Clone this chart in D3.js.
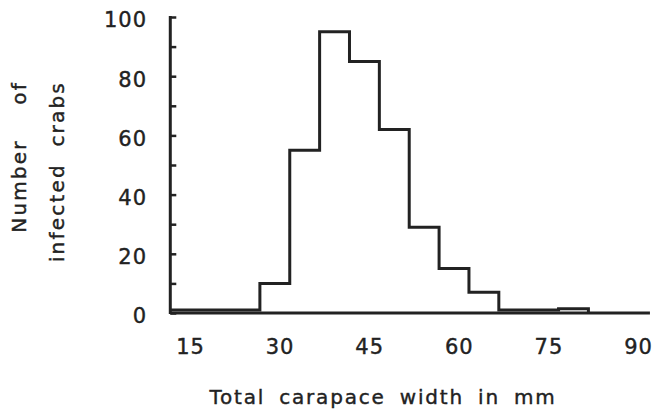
<!DOCTYPE html>
<html>
<head>
<meta charset="utf-8">
<script src="https://cdn.jsdelivr.net/npm/d3@7"></script>
<style>
  body { margin: 0; background: #fff; }
  text { font-family: 'DejaVu Sans', sans-serif; fill: #222; stroke: #222; stroke-width: 0.4px; }
</style>
</head>
<body>
<div class="vis-hist"></div>
<script>
// bin starts (mm), each bin 5 mm wide
const binStarts = [11.7, 16.7, 21.7, 26.7, 31.7, 36.7, 41.7, 46.7, 51.7, 56.7, 61.7, 66.7, 71.7, 76.7];
const counts = [1, 1, 1, 10, 55, 95, 85, 62, 29, 15, 7, 1, 1, 1.4];
const binWidth = 5;
const xTicks = [15, 30, 45, 60, 75, 90];
const yTicks = [0, 10, 20, 30, 40, 50, 60, 70, 80, 90, 100];
const yLabels = [0, 20, 40, 60, 80, 100];

const W = 656, H = 409;
const svg = d3.select('.vis-hist')
    .append('svg')
    .attr('width', W)
    .attr('height', H);

const x = d3.scaleLinear().domain([15, 90]).range([190, 638]);
const y = d3.scaleLinear().domain([0, 100]).range([313, 17]);
const x0 = binStarts[0], x1 = 92;

const ink = '#222';

// baseline
svg.append('line')
    .attr('x1', x(x0)).attr('x2', x(x1))
    .attr('y1', y(0)).attr('y2', y(0))
    .attr('stroke', ink).attr('stroke-width', 3);

// y axis with inward ticks
const yAxis = d3.axisLeft(y)
    .tickValues(yTicks)
    .tickSize(-6)
    .tickFormat('');
const gy = svg.append('g')
    .attr('transform', 'translate(' + x(x0) + ',0)')
    .call(yAxis);
gy.select('.domain').remove();
gy.selectAll('.tick line').attr('stroke', ink).attr('stroke-width', 2.5);
gy.append('line')
    .attr('y1', y(100) - 1).attr('y2', y(0) + 1)
    .attr('stroke', ink).attr('stroke-width', 3);

svg.selectAll('.ylab')
    .data(yLabels)
    .enter().append('text')
    .attr('class', 'ylab')
    .attr('x', 147)
    .attr('y', d => y(d) + 3)
    .attr('dy', '0.35em')
    .attr('text-anchor', 'end')
    .style('font-size', '21px')
    .style('letter-spacing', '1px')
    .text(d => d);

// x tick labels
const xAxis = d3.axisBottom(x)
    .tickValues(xTicks)
    .tickSize(0)
    .tickPadding(0);
const gx = svg.append('g')
    .attr('transform', 'translate(0,' + 347 + ')')
    .call(xAxis);
gx.select('.domain').remove();
gx.selectAll('text')
    .attr('y', 0)
    .attr('dy', '0.35em')
    .style('font-size', '21px')
    .style('letter-spacing', '1px')
    .style('font-family', "'DejaVu Sans', sans-serif")
    .attr('fill', ink);

// histogram outline
const pts = binStarts.map((s, i) => [s, counts[i]]);
const last = binStarts[binStarts.length - 1] + binWidth;
pts.push([last, 0]);
const step = d3.line()
    .x(d => x(d[0]))
    .y(d => y(d[1]))
    .curve(d3.curveStepAfter);
svg.append('path')
    .datum(pts)
    .attr('d', step)
    .attr('fill', 'none')
    .attr('stroke', ink)
    .attr('stroke-width', 3);

// axis titles
svg.append('text')
    .attr('x', 383)
    .attr('y', 397)
    .attr('dy', '0.35em')
    .attr('text-anchor', 'middle')
    .style('font-size', '20px')
    .style('letter-spacing', '1.8px')
    .style('word-spacing', '6px')
    .text('Total carapace width in mm');

svg.append('text')
    .attr('transform', 'translate(19,81) rotate(-90)')
    .attr('text-anchor', 'end')
    .attr('dy', '0.35em')
    .style('font-size', '20px')
    .style('letter-spacing', '2.2px')
    .style('word-spacing', '26px')
    .text('Number of');

svg.append('text')
    .attr('transform', 'translate(57,81) rotate(-90)')
    .attr('text-anchor', 'end')
    .attr('dy', '0.35em')
    .style('font-size', '20px')
    .style('letter-spacing', '2.2px')
    .style('word-spacing', '8px')
    .text('infected crabs');
</script>
</body>
</html>
